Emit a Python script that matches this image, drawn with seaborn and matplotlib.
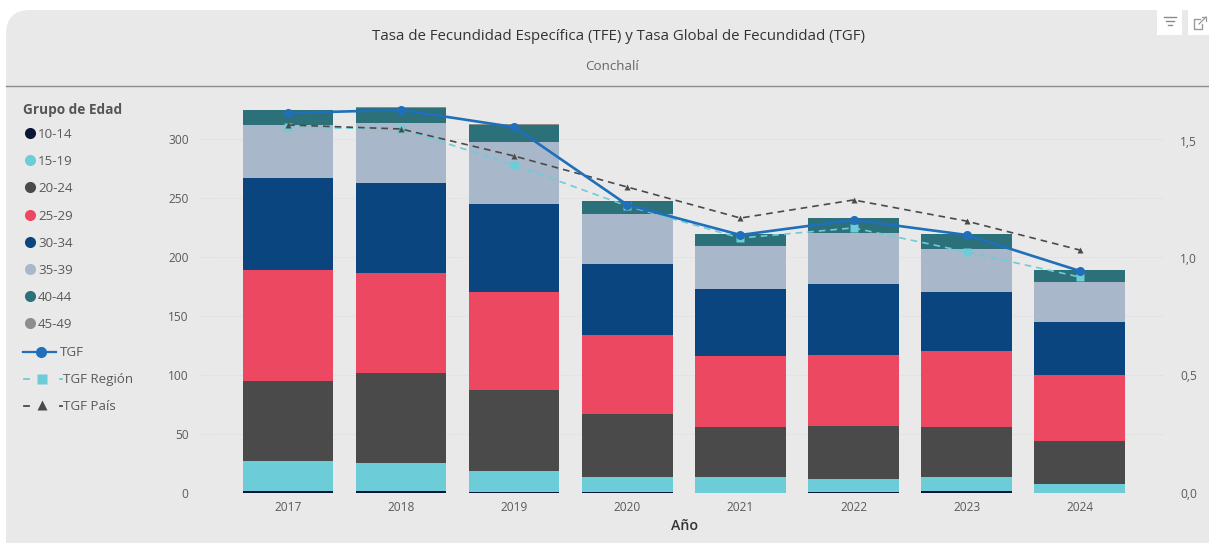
import pandas as pd
import matplotlib.pyplot as plt
import seaborn as sns
from matplotlib.lines import Line2D
from matplotlib.patches import FancyBboxPatch, Rectangle

# Data
years = [2017, 2018, 2019, 2020, 2021, 2022, 2023, 2024]
age_10_14 = [1.5, 2, 0.5, 0.5, 0.3, 0.5, 1.5, 0.3]
age_15_19 = [25.5, 23.5, 18, 13, 13.2, 11.5, 12, 7.7]
age_20_24 = [68, 76, 68.5, 53.5, 42.5, 45, 42.5, 36]
age_25_29 = [94, 85, 83, 67, 60, 60, 64, 56]
age_30_34 = [78, 76, 75, 60, 57, 60, 50, 45]
age_35_39 = [45, 51, 52, 42, 36, 43, 37, 34]
age_40_44 = [12.6, 13, 15, 11.5, 10.5, 13, 12.5, 10]
age_45_49 = [0.2, 0.2, 0.3, 0.2, 0.2, 0.3, 0.2, 0.2]
tgf = [1.617, 1.63, 1.557, 1.226, 1.098, 1.162, 1.098, 0.945]
tgf_region = [1.557, 1.549, 1.396, 1.221, 1.085, 1.128, 1.026, 0.919]
tgf_pais = [1.566, 1.549, 1.434, 1.302, 1.17, 1.247, 1.157, 1.034]

groups = ['10-14', '15-19', '20-24', '25-29', '30-34', '35-39', '40-44', '45-49']
colors = ['#0b1535', '#6ccdd8', '#4a4a4a', '#ec4862', '#0a4580', '#a8b7c9', '#2c7079', '#8e8e8e']
group_values = [age_10_14, age_15_19, age_20_24, age_25_29,
                age_30_34, age_35_39, age_40_44, age_45_49]

rows = []
for g, vals in zip(groups, group_values):
    for y, v in zip(years, vals):
        rows.append({'year': y, 'grupo': g, 'value': v})
df = pd.DataFrame(rows)

W, H = 1209, 543
plt.rcParams['font.family'] = ['Open Sans', 'DejaVu Sans']
text_col = '#5a5a5a'

fig = plt.figure(figsize=(W / 100, H / 100), dpi=100, facecolor='white')


def px_line(xs, ys, **kw):
    fig.add_artist(Line2D([x / W for x in xs], [1 - y / H for y in ys], **kw))


# Card background
fig.add_artist(FancyBboxPatch((6 / W, -0.05), 1.1, 1.05 - 10 / H,
                              boxstyle='round,pad=0,rounding_size=0.02',
                              mutation_aspect=W / H,
                              transform=fig.transFigure,
                              fc='#e9e9e9', ec='none', zorder=-5))
px_line([6, W], [86, 86], color='#8c8c8c', lw=1, zorder=-4)
fig.text(619 / W, 1 - 37 / H,
         'Tasa de Fecundidad Específica (TFE) y Tasa Global de Fecundidad (TGF)',
         ha='center', va='center', fontsize=10.8, color='#333333')
fig.text(612 / W, 1 - 66.5 / H, 'Conchalí', ha='center', va='center',
         fontsize=9.6, color='#666666')

# Header icons
fig.add_artist(Rectangle((1157 / W, 1 - 35 / H), 25 / W, 26 / H, fc='white', ec='none', zorder=-3))
fig.add_artist(Rectangle((1188 / W, 1 - 35 / H), 21 / W, 26 / H, fc='white', ec='none', zorder=-3))
for y, x0, x1 in [(17, 1164, 1176), (21, 1166, 1174), (25, 1168, 1172)]:
    px_line([x0, x1], [y, y], color='#8a8a8a', lw=1)
px_line([1200, 1194, 1194, 1202, 1202], [19, 19, 29, 29, 24], color='#9a9a9a', lw=1)
px_line([1199, 1206], [24, 17], color='#9a9a9a', lw=0.9)
px_line([1202, 1206, 1206], [17, 17, 21], color='#9a9a9a', lw=0.9)

# Plot area
left, right, top, bottom = 197, 1165, 100, 493
ax = fig.add_axes([left / W, 1 - bottom / H, (right - left) / W, (bottom - top) / H])
ax.patch.set_alpha(0)

sns.histplot(data=df, x='year', weights='value', hue='grupo',
             hue_order=groups[::-1], palette=dict(zip(groups, colors)),
             multiple='stack', discrete=True, shrink=0.8,
             alpha=1, edgecolor='none', linewidth=0, legend=False, ax=ax)
ax.set_xlim(2017 - 0.805, 2017 + 7.754)
ax.set_ylim(0, 333)
ax.set_yticks([0, 50, 100, 150, 200, 250, 300])
ax.set_xticks(years)
ax.set_ylabel('')
ax.set_xlabel('Año', fontsize=10.2, color='#333333', labelpad=3, x=0.504, weight='semibold')
ax.tick_params(length=0, labelsize=8.6, labelcolor=text_col)
ax.tick_params(axis='y', pad=6)
ax.tick_params(axis='x', pad=6)
ax.grid(axis='y', ls=(0, (1, 2)), lw=0.6, color='#d4d4d4')
ax.set_axisbelow(True)
sns.despine(ax=ax, left=True, bottom=True)

# Secondary axis lines
ax2 = ax.twinx()
ax2.patch.set_alpha(0)
line_df = pd.DataFrame({'year': years, 'tgf': tgf, 'region': tgf_region, 'pais': tgf_pais})
sns.lineplot(data=line_df, x='year', y='region', ax=ax2, color='#6ccdd8', lw=1.2,
             ls=(0, (4, 3)), marker='s', ms=5.5, mec='none')
sns.lineplot(data=line_df, x='year', y='pais', ax=ax2, color='#4a4a4a', lw=1.2,
             ls=(0, (4, 3)), marker='^', ms=5, mec='none')
sns.lineplot(data=line_df, x='year', y='tgf', ax=ax2, color='#1f6fba', lw=1.9,
             marker='o', ms=6.5, mec='none')
ax2.set_ylim(0, (bottom - top) / 235)
ax2.set_yticks([0, 0.5, 1.0, 1.5])
ax2.set_yticklabels(['0,0', '0,5', '1,0', '1,5'])
ax2.set_ylabel('')
ax2.set_xlabel('')
ax2.tick_params(length=0, labelsize=8.6, labelcolor=text_col, pad=11)
sns.despine(ax=ax2, left=True, bottom=True, right=True)

# Legend, placed by hand: the line entries have wider keys than the dots
fig.text(23 / W, 1 - 110 / H, 'Grupo de Edad', ha='left', va='center',
         fontsize=9.8, weight='bold', color='#555555')
for i, (g, c) in enumerate(zip(groups, colors)):
    y = 133 + i * 27.2
    px_line([30], [y], ls='none', marker='o', ms=8, mec='none', color=c)
    fig.text(38 / W, 1 - (y + 1.5) / H, g, ha='left', va='center', fontsize=9.6, color=text_col)

px_line([23, 56], [352, 352], color='#1f6fba', lw=1.6)
px_line([41], [352], ls='none', marker='o', ms=8, mec='none', color='#1f6fba')
fig.text(60 / W, 1 - 353 / H, 'TGF', ha='left', va='center', fontsize=9.6, color=text_col)

px_line([24, 29], [379, 379], color='#6ccdd8', lw=1.3)
px_line([60, 61.5], [379, 379], color='#6ccdd8', lw=1.3)
px_line([42], [379], ls='none', marker='s', ms=7.5, mec='none', color='#6ccdd8')
fig.text(63 / W, 1 - 380 / H, 'TGF Región', ha='left', va='center', fontsize=9.6, color=text_col)

px_line([24, 29], [406, 406], color='#4a4a4a', lw=1.3)
px_line([60, 61.5], [406, 406], color='#4a4a4a', lw=1.3)
px_line([42], [405], ls='none', marker='^', ms=7, mec='none', color='#4a4a4a')
fig.text(63 / W, 1 - 407 / H, 'TGF País', ha='left', va='center', fontsize=9.6, color=text_col)

fig.savefig('out.png', dpi=100, facecolor=fig.get_facecolor())
